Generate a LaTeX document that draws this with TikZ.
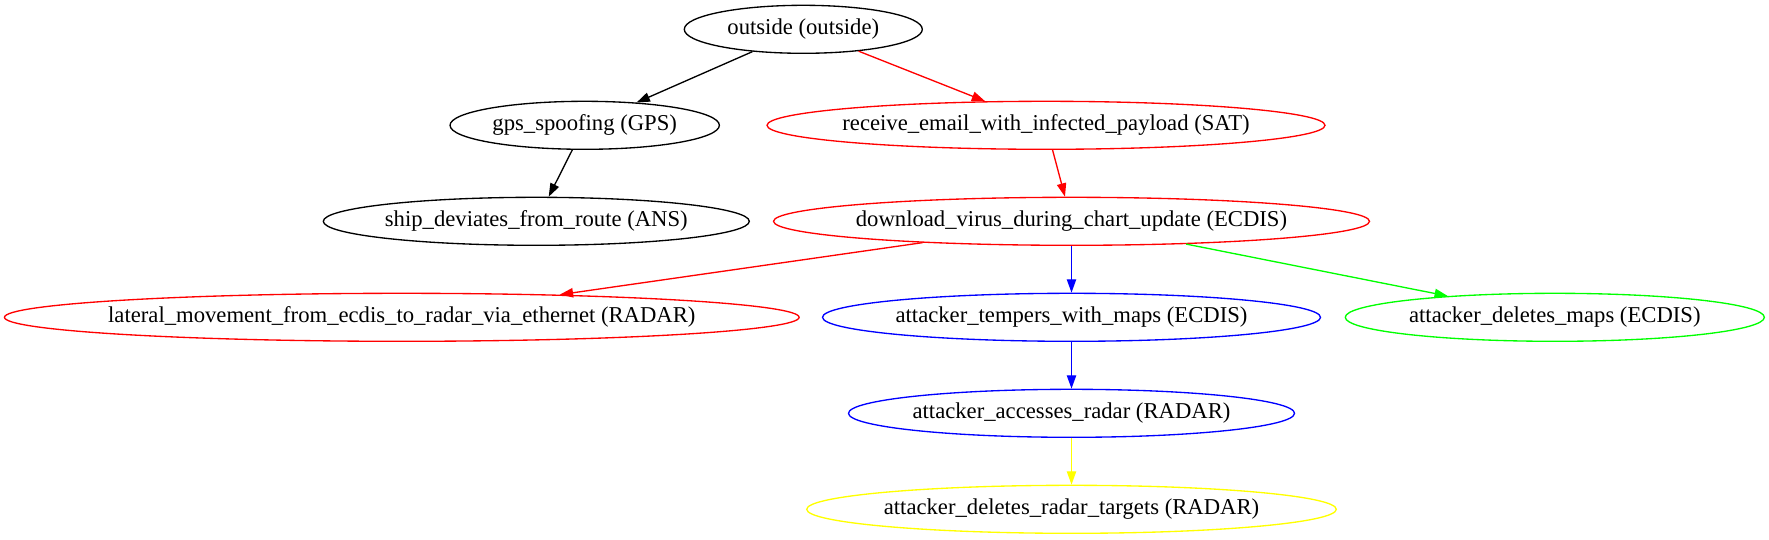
\documentclass[tikz,border=0pt]{standalone}
\usepackage{fontspec}
\setmainfont{Liberation Serif}
\usetikzlibrary{shapes.geometric,arrows.meta}
\definecolor{gvred}{RGB}{255,0,0}
\definecolor{gvblue}{RGB}{0,0,255}
\definecolor{gvgreen}{RGB}{0,255,0}
\definecolor{gvyellow}{RGB}{255,255,0}
\newcommand{\gvlabel}[1]{\makebox[0pt][c]{#1}}
\tikzset{
  gvnode/.style={ellipse, draw, line width=1pt, inner sep=0pt, minimum height=36pt,
    text=black, font=\fontsize{17}{20}\selectfont},
  gvedge/.style={line width=1pt, -{Triangle[length=10pt,width=7pt]}},
}
\begin{document}
\begin{tikzpicture}[x=0.75pt,y=-0.75pt]
\useasboundingbox (0,0) rectangle (1769,539);
\node[gvnode, minimum width=178.5pt] (outside) at (803.3,29.3) {\gvlabel{outside (outside)}};
\node[gvnode, minimum width=202pt] (gps) at (584.7,125.3) {\gvlabel{gps\_spoofing (GPS)}};
\node[gvnode, draw=gvred, minimum width=418.5pt] (recv) at (1046,125.3) {\gvlabel{receive\_email\_with\_infected\_payload (SAT)}};
\node[gvnode, minimum width=319.5pt] (ship) at (536.3,221.3) {\gvlabel{ship\_deviates\_from\_route (ANS)}};
\node[gvnode, draw=gvred, minimum width=447pt] (dl) at (1071.5,221.3) {\gvlabel{download\_virus\_during\_chart\_update (ECDIS)}};
\node[gvnode, draw=gvred, minimum width=596pt] (lat) at (401.8,317.3) {\gvlabel{lateral\_movement\_from\_ecdis\_to\_radar\_via\_ethernet (RADAR)}};
\node[gvnode, draw=gvblue, minimum width=373.5pt] (temp) at (1071.5,317.3) {\gvlabel{attacker\_tempers\_with\_maps (ECDIS)}};
\node[gvnode, draw=gvgreen, minimum width=314.3pt] (delmaps) at (1554.8,317.3) {\gvlabel{attacker\_deletes\_maps (ECDIS)}};
\node[gvnode, draw=gvblue, minimum width=334.5pt] (acc) at (1071.5,413.3) {\gvlabel{attacker\_accesses\_radar (RADAR)}};
\node[gvnode, draw=gvyellow, minimum width=397.2pt] (delrad) at (1071.5,509.3) {\gvlabel{attacker\_deletes\_radar\_targets (RADAR)}};
\draw[gvedge] (outside) -- (gps);
\draw[gvedge, gvred] (outside) -- (recv);
\draw[gvedge] (gps) -- (ship);
\draw[gvedge, gvred] (recv) -- (dl);
\draw[gvedge, gvred] (dl) -- (lat);
\draw[gvedge, gvblue] (dl) -- (temp);
\draw[gvedge, gvgreen] (dl) -- (delmaps);
\draw[gvedge, gvblue] (temp) -- (acc);
\draw[gvedge, gvyellow] (acc) -- (delrad);
\end{tikzpicture}
\end{document}
